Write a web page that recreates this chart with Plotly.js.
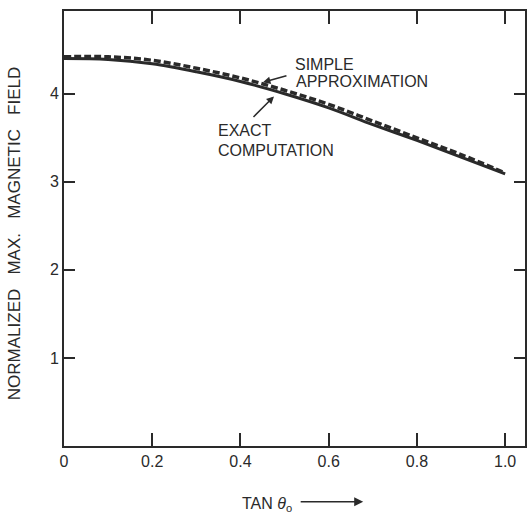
<!DOCTYPE html>
<html>
<head>
<meta charset="utf-8">
<script src="https://cdn.plot.ly/plotly-3.0.1.min.js"></script>
<style>html,body{margin:0;padding:0;background:#fff;}#chart{width:527px;height:515px;}</style>
</head>
<body>
<div id="chart"></div>
<script>
// Data
const tanTheta = [0, 0.1, 0.2, 0.3, 0.4, 0.5, 0.6, 0.7, 0.8, 0.9, 1.0];
const exactField = [4.40, 4.39, 4.34, 4.25, 4.14, 4.00, 3.84, 3.65, 3.47, 3.28, 3.09];
const approxField = [4.42, 4.42, 4.38, 4.29, 4.18, 4.04, 3.88, 3.69, 3.50, 3.31, 3.10];
const xTickVals = [0, 0.2, 0.4, 0.6, 0.8, 1.0];
const xTickText = ["0", "0.2", "0.4", "0.6", "0.8", "1.0"];
const yTickVals = [1, 2, 3, 4];
const yTickText = ["1", "2", "3", "4"];

const ink = '#2a2a2a';
const fnt = {family: 'Liberation Sans, Arial, sans-serif', size: 16, color: ink};
const titleFnt = {family: 'Liberation Sans, Arial, sans-serif', size: 17, color: ink};

const traces = [
  {x: tanTheta, y: exactField, mode: 'lines', line: {color: ink, width: 3, shape: 'spline'}, name: 'EXACT COMPUTATION'},
  {x: tanTheta, y: approxField, mode: 'lines', line: {color: ink, width: 3.5, dash: '7px,3px', shape: 'spline'}, name: 'SIMPLE APPROXIMATION'}
];

const nb = '\u00a0\u00a0\u00a0';
const layout = {
  width: 527, height: 515,
  margin: {l: 64, r: 2, t: 11, b: 69},
  paper_bgcolor: '#fff', plot_bgcolor: '#fff',
  showlegend: false,
  font: fnt,
  xaxis: {
    range: [0, 1.045], tickvals: xTickVals, ticktext: xTickText,
    ticks: 'inside', ticklen: 13, tickwidth: 2, tickcolor: ink,
    showline: true, linewidth: 2, linecolor: ink, mirror: 'ticks',
    showgrid: false, zeroline: false, tickfont: fnt
  },
  yaxis: {
    range: [0, 4.94], tickvals: yTickVals, ticktext: yTickText,
    ticks: 'inside', ticklen: 11, tickwidth: 2, tickcolor: ink,
    showline: true, linewidth: 2, linecolor: ink, mirror: 'ticks',
    showgrid: false, zeroline: false, tickfont: fnt
  },
  annotations: [
    {xref: 'x', yref: 'y', x: 0.519, y: 4.334, xanchor: 'left', yanchor: 'middle', text: 'SIMPLE', showarrow: false, font: fnt},
    {xref: 'x', yref: 'y', x: 0.522, y: 4.14, xanchor: 'left', yanchor: 'middle', text: 'APPROXIMATION', showarrow: false, font: fnt},
    {xref: 'x', yref: 'y', x: 0.345, y: 3.583, xanchor: 'left', yanchor: 'middle', text: 'EXACT', showarrow: false, font: fnt},
    {xref: 'x', yref: 'y', x: 0.345, y: 3.36, xanchor: 'left', yanchor: 'middle', text: 'COMPUTATION', showarrow: false, font: fnt},
    {xref: 'x', yref: 'y', x: 0.451, y: 4.13, ax: 25, ay: -7, text: '', showarrow: true, arrowhead: 2, arrowsize: 1, arrowwidth: 1.5, arrowcolor: ink},
    {xref: 'x', yref: 'y', x: 0.476, y: 3.97, ax: -22, ay: 22, text: '', showarrow: true, arrowhead: 2, arrowsize: 1, arrowwidth: 1.5, arrowcolor: ink},
    {xref: 'paper', yref: 'paper', x: -0.107, y: 0.4885, xanchor: 'center', yanchor: 'middle', textangle: -90,
     text: 'NORMALIZED' + nb + 'MAX.' + nb + 'MAGNETIC' + nb + 'FIELD', showarrow: false, font: titleFnt},
    {xref: 'paper', yref: 'paper', x: 0.44, y: -0.135, xanchor: 'center', yanchor: 'middle',
     text: 'TAN <i>θ</i><sub>o</sub>', showarrow: false, font: fnt},
    {xref: 'paper', yref: 'paper', x: 0.649, y: -0.128, ax: -64, ay: 0, text: '', showarrow: true, arrowhead: 2, arrowsize: 1.2, arrowwidth: 1.5, arrowcolor: ink}
  ]
};

Plotly.newPlot('chart', traces, layout, {displayModeBar: false, staticPlot: true});
</script>
</body>
</html>
